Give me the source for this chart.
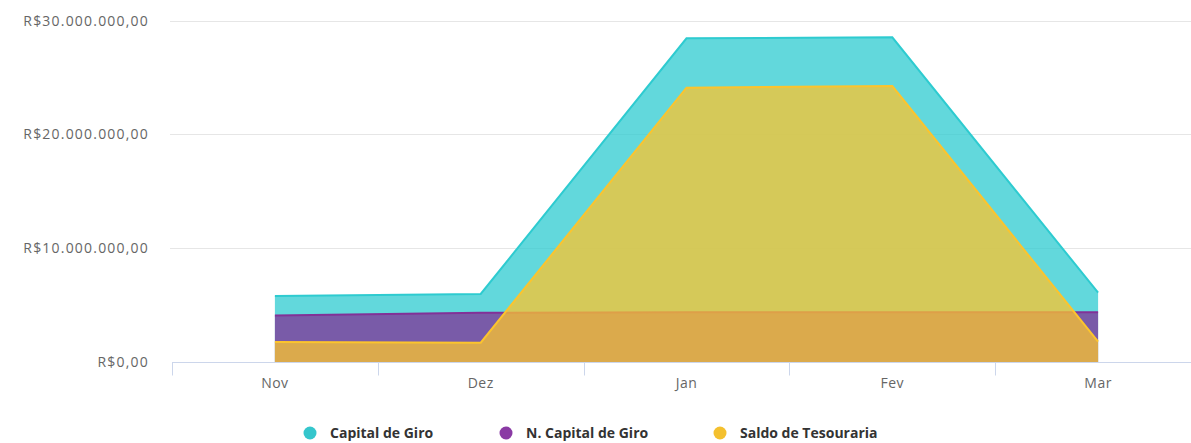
<!DOCTYPE html>
<html>
<head>
<meta charset="utf-8">
<script src="https://cdn.jsdelivr.net/npm/d3@7"></script>
<style>
  body { margin: 0; background: #fff; }
  svg { display: block; font-family: 'Open Sans', sans-serif; }
</style>
</head>
<body>
<div id="chart"></div>
<script>
const categories = ['Nov', 'Dez', 'Jan', 'Fev', 'Mar']
const capitalGiro = [5800000, 5980000, 28440000, 28530000, 6090000]
const nCapitalGiro = [4080000, 4320000, 4380000, 4380000, 4370000]
const saldoTesouraria = [1760000, 1700000, 24100000, 24250000, 1780000]
const yTicks = [0, 10000000, 20000000, 30000000]

const series = [
  { name: 'Capital de Giro', values: capitalGiro, color: '#2ecbd0', dot: '#35c6cc' },
  { name: 'N. Capital de Giro', values: nCapitalGiro, color: '#823197', dot: '#8a3aa4' },
  { name: 'Saldo de Tesouraria', values: saldoTesouraria, color: '#fcc42d', dot: '#f4c02e' }
]

const width = 1191
const height = 443
const margin = { top: 20.6, left: 172, bottom: 81 }
const band = 205.8

const svg = d3
  .select('#chart')
  .append('svg')
  .attr('width', width)
  .attr('height', height)

const x = d3
  .scaleBand()
  .domain(categories)
  .range([margin.left, margin.left + band * categories.length])

const y = d3
  .scaleLinear()
  .domain([0, 30000000])
  .range([height - margin.bottom, margin.top])

const locale = d3.formatLocale({
  decimal: ',',
  thousands: '.',
  grouping: [3],
  currency: ['R$', '']
})
const money = locale.format('$,.2f')

// grid lines
svg
  .append('g')
  .selectAll('line')
  .data(yTicks.slice(1))
  .enter()
  .append('line')
  .attr('x1', margin.left - 2)
  .attr('x2', width)
  .attr('y1', d => Math.round(y(d)) + 0.5)
  .attr('y2', d => Math.round(y(d)) + 0.5)
  .attr('stroke', '#e6e6e6')

// y labels
svg
  .append('g')
  .selectAll('text')
  .data(yTicks)
  .enter()
  .append('text')
  .attr('x', 149)
  .attr('y', d => y(d))
  .attr('dy', '0.35em')
  .attr('text-anchor', 'end')
  .attr('fill', '#666')
  .style('font-size', '14px')
  .style('letter-spacing', '1.2px')
  .text(d => money(d))

const cx = d => x(d) + x.bandwidth() / 2

const area = d3
  .area()
  .x((d, i) => cx(categories[i]))
  .y0(y(0))
  .y1(d => y(d))

const line = d3
  .line()
  .x((d, i) => cx(categories[i]))
  .y(d => y(d))

series.forEach(s => {
  svg
    .append('path')
    .datum(s.values)
    .attr('d', area)
    .attr('fill', s.color)
    .attr('fill-opacity', 0.75)
  svg
    .append('path')
    .datum(s.values)
    .attr('d', line)
    .attr('fill', 'none')
    .attr('stroke', s.color)
    .attr('stroke-width', 2)
})

// x axis
const y0 = Math.round(y(0)) + 0.5
svg
  .append('line')
  .attr('x1', margin.left)
  .attr('x2', width)
  .attr('y1', y0)
  .attr('y2', y0)
  .attr('stroke', '#ccd6eb')

svg
  .append('g')
  .selectAll('line')
  .data(categories)
  .enter()
  .append('line')
  .attr('x1', d => Math.round(x(d)) + 0.5)
  .attr('x2', d => Math.round(x(d)) + 0.5)
  .attr('y1', y0)
  .attr('y2', y0 + 13)
  .attr('stroke', '#ccd6eb')

svg
  .append('g')
  .selectAll('text')
  .data(categories)
  .enter()
  .append('text')
  .attr('x', d => cx(d))
  .attr('y', y0 + 21)
  .attr('dy', '0.35em')
  .attr('text-anchor', 'middle')
  .attr('fill', '#666')
  .style('font-size', '14px')
  .style('letter-spacing', '0.5px')
  .text(d => d)

// legend
const legendX = [310, 506, 720]
const legend = svg
  .append('g')
  .selectAll('g')
  .data(series)
  .enter()
  .append('g')
  .attr('transform', (d, i) => `translate(${legendX[i]},433)`)

legend
  .append('circle')
  .attr('r', 6.5)
  .attr('fill', d => d.dot)

legend
  .append('text')
  .attr('x', 20)
  .attr('dy', '0.35em')
  .attr('fill', '#333')
  .style('font-size', '14px')
  .style('font-weight', 'bold')
  .text(d => d.name)
</script>
</body>
</html>
